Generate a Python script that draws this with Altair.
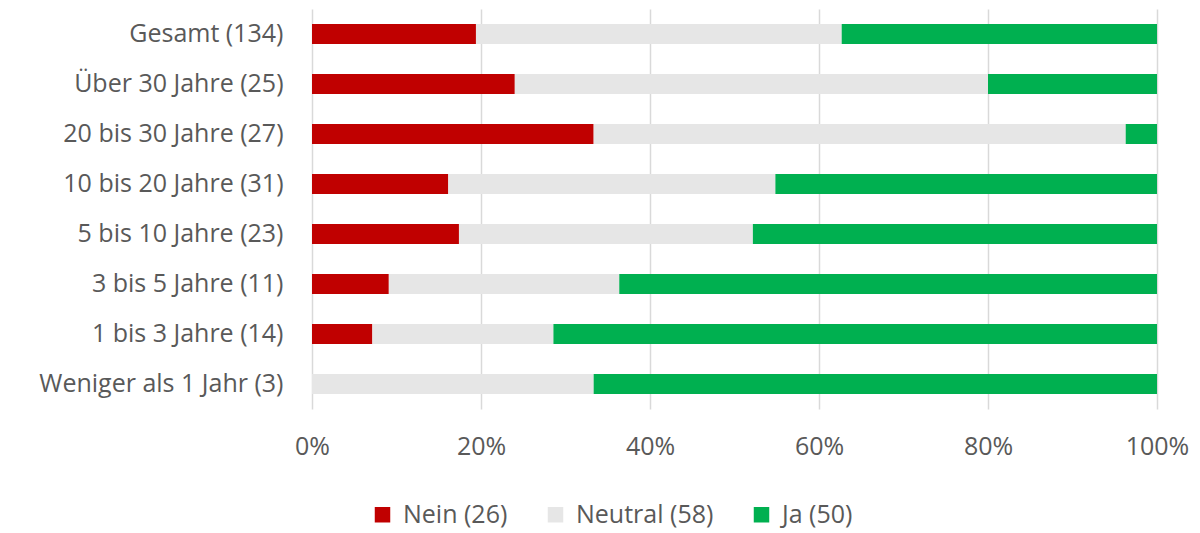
import altair as alt
import pandas as pd

groups = ["Gesamt (134)", "Über 30 Jahre (25)", "20 bis 30 Jahre (27)", "10 bis 20 Jahre (31)",
          "5 bis 10 Jahre (23)", "3 bis 5 Jahre (11)", "1 bis 3 Jahre (14)", "Weniger als 1 Jahr (3)"]
answers = ["Nein (26)", "Neutral (58)", "Ja (50)"]
colors = ["#C00000", "#E6E6E6", "#00B050"]
nein = [26, 6, 9, 5, 4, 1, 1, 0]
neutral = [58, 14, 17, 12, 8, 3, 3, 1]
ja = [50, 5, 1, 14, 11, 7, 10, 2]

rows = []
for i, g in enumerate(groups):
    for k, (a, vals) in enumerate(zip(answers, [nein, neutral, ja])):
        rows.append({"group": g, "answer": a, "count": vals[i], "idx": k})
df = pd.DataFrame(rows)

FONT = "Open Sans"
TXT = "#595959"
FS = 25

chart = alt.Chart(df).mark_bar().encode(
    y=alt.Y("group:N", sort=groups, title=None,
            scale=alt.Scale(paddingInner=0.6, paddingOuter=0.3),
            axis=alt.Axis(domain=False, ticks=False, labelPadding=29, labelFontSize=FS,
                          labelColor=TXT, labelFont=FONT, labelLimit=400)),
    x=alt.X("count:Q", stack="normalize", title=None,
            scale=alt.Scale(domain=[0, 1], nice=False),
            axis=alt.Axis(format="%", values=[0, 0.2, 0.4, 0.6, 0.8, 1.0], domain=False, ticks=False,
                          labelFlush=False, labelPadding=25, labelFontSize=FS, labelColor=TXT,
                          labelFont=FONT, gridColor="#D9D9D9", gridWidth=1.5)),
    color=alt.Color("answer:N", scale=alt.Scale(domain=answers, range=colors),
                    legend=alt.Legend(title=None, orient="none", direction="horizontal",
                                      legendX=58, legendY=493, symbolType="square", symbolSize=240,
                                      symbolStrokeWidth=0, labelFontSize=FS, labelColor=TXT, labelFont=FONT,
                                      labelOffset=8, columnPadding=35, symbolOpacity=1)),
    order=alt.Order("idx:Q"),
).properties(
    width=845, height=400,
    autosize="none",
    padding={"left": 304, "top": 1, "right": 35, "bottom": 122},
).configure_view(stroke=None)

chart.save("out.html", embed_options={"renderer": "svg", "actions": False})
